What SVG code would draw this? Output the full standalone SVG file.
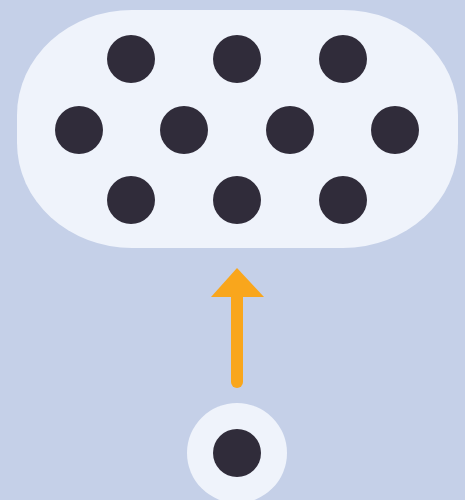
<svg xmlns="http://www.w3.org/2000/svg" width="465" height="500" viewBox="0 0 465 500">
<style>
.pad{fill:#eff3fb}
.dot{fill:#302c3a}
.arr{stroke:#f9a61c;stroke-width:12;stroke-linecap:round;fill:none}
</style>
<rect width="465" height="500" fill="#c5d0e8"/>
<g id="cluster">
<rect class="pad" x="17" y="10" width="441" height="238" rx="115" ry="105"/>
<circle class="dot" cx="131" cy="59" r="24"/>
<circle class="dot" cx="237" cy="59" r="24"/>
<circle class="dot" cx="343" cy="59" r="24"/>
<circle class="dot" cx="79" cy="130" r="24"/>
<circle class="dot" cx="184" cy="130" r="24"/>
<circle class="dot" cx="290" cy="130" r="24"/>
<circle class="dot" cx="395" cy="130" r="24"/>
<circle class="dot" cx="131" cy="200" r="24"/>
<circle class="dot" cx="237" cy="200" r="24"/>
<circle class="dot" cx="343" cy="200" r="24"/>
</g>
<g id="connectors">
<line class="arr" x1="237" y1="382" x2="237" y2="296"/>
<polygon points="237,268 264,297 211,297" fill="#f9a61c"/>
</g>
<g id="single">
<circle class="pad" cx="237" cy="453" r="50"/>
<circle class="dot" cx="237" cy="453" r="24"/>
</g>
</svg>
